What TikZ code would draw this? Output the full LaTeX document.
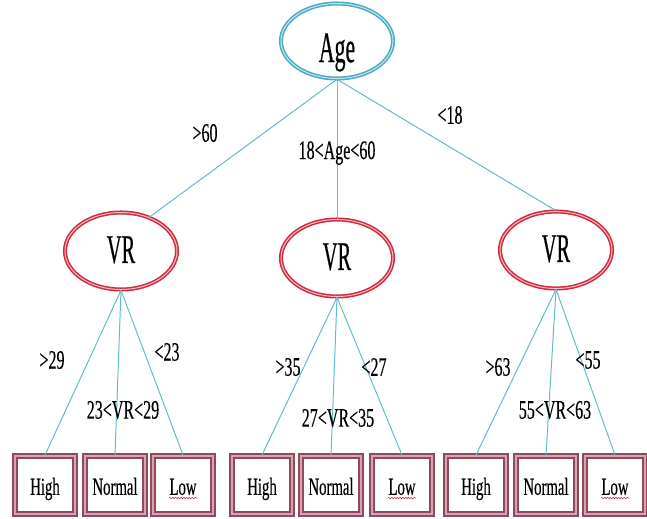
\documentclass[tikz,border=0pt]{standalone}
\usepackage{fontspec}
\setmainfont{Liberation Serif}
\newfontfamily\narrowbig[FakeStretch=0.5,FakeBold=0.4]{Liberation Serif}
\newfontfamily\narrowsmall[FakeStretch=0.6,FakeBold=0.3]{Liberation Serif}
\usetikzlibrary{shapes.geometric,decorations.pathmorphing}
\definecolor{agecyan}{HTML}{4BACC6}
\definecolor{linkcyan}{HTML}{62BACB}
\definecolor{vrred}{HTML}{D22B3D}
\definecolor{leafred}{HTML}{8E4A5C}
\definecolor{leafpink}{HTML}{D9A3B1}
\tikzset{
  rootnode/.style={ellipse, draw=agecyan, line width=1.1pt, double=agecyan!30,
    double distance=0.7pt, inner sep=0pt, minimum width=28mm, minimum height=18.75mm,
    font=\narrowbig\fontsize{31}{31}\selectfont, text height=30pt, text depth=0pt},
  vrnode/.style={ellipse, draw=vrred, line width=1.1pt, double=vrred!30,
    double distance=0.7pt, inner sep=0pt, minimum width=28mm, minimum height=19.25mm,
    font=\narrowbig\fontsize{29}{29}\selectfont, text height=19pt, text depth=2pt},
  leafnode/.style={rectangle, draw=leafred, line width=1.4pt, double=leafpink,
    double distance=0.8pt, inner sep=0pt, minimum width=15mm, minimum height=14.5mm,
    font=\narrowsmall\fontsize{17.5}{17.5}\selectfont, text height=14pt, text depth=0pt},
  cond/.style={font=\narrowsmall\fontsize{19}{19}\selectfont, inner sep=0pt},
  link/.style={draw=linkcyan, line width=0.7pt}
}
\begin{document}
\begin{tikzpicture}[x=0.25mm, y=-0.25mm]
  \useasboundingbox (0,0) rectangle (647,518);
  % links first, nodes on top
  \node[rootnode] (age) at (337,41) {Age};
  \node[vrnode] (vrA) at (121,251) {VR};
  \node[vrnode] (vrB) at (337,258) {VR};
  \node[vrnode] (vrC) at (556,250) {VR};

  \node[leafnode] (highA) at (45,485) {High};
  \node[leafnode] (normalA) at (115,485) {Normal};
  \node[leafnode] (lowA) at (183,485) {Low};
  \node[leafnode] (highB) at (262,485) {High};
  \node[leafnode] (normalB) at (331,485) {Normal};
  \node[leafnode] (lowB) at (402,485) {Low};
  \node[leafnode] (highC) at (476,485) {High};
  \node[leafnode] (normalC) at (546,485) {Normal};
  \node[leafnode] (lowC) at (615,485) {Low};

  \draw[link] (age.south) -- (vrA.50);
  \draw[link] (age.south) -- (vrB.north);
  \draw[link] (age.south) -- (vrC.north);
  \foreach \v/\l in {A,B,C}{
    \draw[link] (vr\v.south) -- (high\v.north);
    \draw[link] (vr\v.south) -- (normal\v.north);
    \draw[link] (vr\v.south) -- (low\v.north);
    % spell check squiggle under Low
    \draw[vrred, line width=0.4pt, decorate, decoration={snake, amplitude=0.5pt, segment length=2pt}]
      ([shift={(-14,13)}]low\v.center) -- ([shift={(14,13)}]low\v.center);
  }

  \node[cond] at (205,133) {>60};
  \node[cond] at (337,153) {18<Age<60};
  \node[cond] at (450,115) {<18};

  \node[cond] at (52,360) {>29};
  \node[cond] at (167,352) {<23};
  \node[cond] at (123,410) {23<VR<29};

  \node[cond] at (288,367) {>35};
  \node[cond] at (374,367) {<27};
  \node[cond] at (338,418) {27<VR<35};

  \node[cond] at (498,367) {>63};
  \node[cond] at (588,360) {<55};
  \node[cond] at (555,410) {55<VR<63};
\end{tikzpicture}
\end{document}
